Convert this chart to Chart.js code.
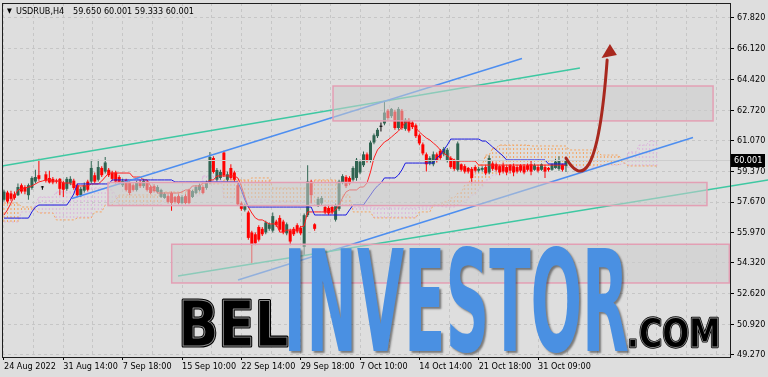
<!DOCTYPE html>
<html>
<head>
<meta charset="utf-8">
<title>USDRUB H4</title>
<script src="https://cdn.jsdelivr.net/npm/chart.js@4.4.1/dist/chart.umd.min.js"></script>
<style>
  html, body { margin: 0; padding: 0; background: #dedede; }
  canvas { display: block; }
</style>
</head>
<body>
<canvas id="chart" width="768" height="377"></canvas>
<script>
// H4 candles, one entry per bar (bar 0 = 24 Aug 2022)
const open = [
  57.80, 58.20, 58.15, 58.10, 58.05, 58.60, 58.50, 58.05, 58.45, 58.80,
  59.15, 58.48, 59.20, 59.00, 58.95, 58.85, 58.95, 58.75, 58.40, 58.70,
  58.85, 58.60, 58.05, 58.30, 58.80, 58.80, 59.15, 58.90, 59.55, 59.35,
  59.45, 59.30, 59.30, 59.05, 58.60, 58.88, 58.72, 58.60, 58.34, 58.78,
  58.55, 58.78, 58.50, 58.55, 58.23, 57.95, 57.90, 58.00, 58.17, 57.95,
  58.00, 57.62, 58.00, 58.34, 57.95, 58.17, 58.34, 58.50, 58.45, 58.78,
  60.10, 58.90, 59.00, 60.40, 58.90, 59.55, 59.30, 58.60, 57.60, 57.25,
  57.10, 56.00, 55.90, 56.30, 56.20, 56.00, 56.20, 56.10, 56.60, 56.80,
  56.60, 55.95, 56.10, 56.20, 56.40, 56.25, 55.20, 56.95, 58.80, 56.45,
  57.50, 57.60, 57.40, 57.35, 57.40, 56.70, 57.30, 58.75, 59.05, 59.00,
  58.90, 59.00, 59.30, 59.70, 60.30, 59.95, 60.95, 61.30, 61.82, 62.00,
  62.70, 62.40, 62.65, 61.75, 62.70, 61.70, 62.20, 62.05, 61.90, 61.35,
  60.85, 60.30, 59.80, 59.75, 60.30, 60.50, 60.30, 59.95, 60.10, 59.95,
  59.45, 59.75, 59.65, 59.55, 59.50, 59.60, 59.40, 59.45, 59.60, 59.30,
  59.80, 59.75, 59.65, 59.70, 59.60, 59.70, 59.65, 59.60, 59.70, 59.65,
  59.70, 59.75, 59.45, 59.60, 59.45, 59.60, 59.55, 59.45, 59.55, 59.50,
  59.75, 59.65
];
const high = [
  58.35, 58.30, 58.30, 58.25, 58.70, 58.70, 58.60, 58.70, 59.10, 59.45,
  60.05, 58.55, 59.35, 59.40, 59.05, 58.95, 59.00, 58.85, 59.05, 59.10,
  58.95, 58.70, 58.50, 58.75, 58.90, 60.00, 59.30, 60.00, 59.65, 60.15,
  59.55, 59.40, 59.40, 59.15, 58.95, 58.95, 58.80, 58.70, 58.85, 58.90,
  58.95, 58.85, 58.60, 58.65, 58.60, 58.40, 58.20, 58.10, 58.25, 58.00,
  58.10, 58.05, 58.10, 58.40, 58.35, 58.60, 58.70, 58.60, 58.85, 60.43,
  60.20, 59.55, 59.45, 60.50, 59.35, 59.75, 59.40, 58.75, 57.70, 57.60,
  57.20, 56.10, 56.00, 56.40, 56.30, 56.65, 56.55, 57.10, 56.70, 56.95,
  56.70, 56.55, 56.20, 56.30, 56.50, 56.35, 57.05, 59.70, 58.90, 56.50,
  57.95, 58.00, 57.50, 57.45, 57.50, 57.60, 58.90, 59.20, 59.15, 59.10,
  59.65, 60.10, 60.00, 60.45, 60.40, 61.05, 61.45, 61.75, 62.05, 63.20,
  62.80, 62.85, 62.75, 62.90, 62.80, 62.30, 62.30, 62.15, 62.00, 61.45,
  60.95, 60.40, 60.20, 60.45, 60.40, 60.60, 60.70, 60.65, 60.20, 60.05,
  61.00, 59.80, 59.75, 59.60, 59.60, 59.70, 59.60, 59.65, 59.70, 60.25,
  59.90, 59.85, 59.70, 59.85, 59.70, 59.75, 59.80, 59.70, 59.75, 59.75,
  59.80, 59.95, 59.80, 59.70, 59.80, 59.70, 59.60, 59.80, 60.05, 60.20,
  59.80, 60.001
];
const low = [
  57.70, 57.60, 57.75, 57.80, 58.00, 58.15, 58.10, 57.80, 58.35, 58.70,
  58.85, 58.35, 58.75, 58.70, 58.65, 58.70, 58.05, 57.95, 58.30, 58.60,
  58.35, 57.95, 57.95, 58.20, 58.25, 58.70, 58.70, 58.80, 59.05, 59.25,
  59.05, 58.85, 58.70, 58.65, 58.50, 58.25, 58.05, 58.25, 58.25, 58.45,
  58.45, 58.25, 58.10, 58.20, 58.15, 57.90, 57.85, 57.60, 57.20, 57.60,
  57.55, 57.55, 57.55, 57.55, 57.90, 58.10, 58.25, 58.10, 58.35, 58.70,
  59.25, 58.80, 58.90, 59.05, 58.80, 58.90, 58.80, 57.45, 57.20, 57.15,
  55.60, 54.30, 55.30, 55.50, 55.80, 55.90, 56.10, 56.00, 56.30, 56.05,
  55.90, 55.85, 55.30, 55.80, 55.95, 55.85, 54.75, 56.85, 57.60, 56.10,
  57.40, 57.50, 57.00, 56.95, 57.00, 56.60, 57.20, 58.65, 58.45, 58.60,
  58.80, 58.85, 59.20, 59.60, 59.85, 59.85, 60.85, 61.20, 61.55, 61.90,
  62.20, 62.30, 61.65, 61.65, 61.65, 61.60, 61.50, 61.70, 61.20, 60.80,
  60.25, 59.35, 59.70, 59.65, 59.85, 60.00, 60.20, 59.85, 59.50, 59.40,
  59.35, 59.35, 59.25, 59.25, 58.70, 59.30, 59.30, 59.35, 59.15, 59.20,
  59.40, 59.35, 59.15, 59.25, 59.15, 59.25, 59.10, 59.25, 59.30, 59.20,
  59.35, 59.15, 59.40, 59.30, 59.40, 59.00, 59.35, 59.40, 59.50, 59.40,
  59.35, 59.333
];
const close = [
  58.25, 57.70, 57.85, 57.90, 58.50, 58.25, 58.25, 58.60, 59.00, 59.05,
  58.95, 58.48, 58.85, 58.75, 58.75, 58.80, 58.40, 58.35, 58.95, 58.95,
  58.45, 58.05, 58.40, 58.60, 58.35, 59.55, 58.80, 59.60, 59.15, 59.85,
  59.15, 58.95, 58.80, 58.73, 58.83, 58.34, 58.17, 58.34, 58.72, 58.55,
  58.83, 58.34, 58.17, 58.28, 58.50, 58.34, 58.12, 57.68, 57.62, 57.68,
  57.62, 57.95, 57.62, 57.62, 58.28, 58.50, 58.60, 58.17, 58.78, 60.15,
  59.33, 59.44, 59.33, 59.15, 59.20, 59.00, 58.90, 57.55, 57.30, 57.50,
  55.70, 55.30, 55.40, 55.60, 55.90, 56.55, 56.45, 56.90, 56.40, 56.15,
  56.00, 56.45, 55.50, 55.90, 56.05, 55.95, 56.95, 58.80, 58.05, 56.20,
  57.85, 57.90, 57.10, 57.05, 57.10, 57.50, 58.80, 59.10, 58.55, 58.70,
  59.55, 60.00, 59.90, 60.30, 59.95, 60.95, 61.35, 61.65, 61.82, 62.60,
  62.30, 62.80, 61.75, 62.80, 61.75, 62.20, 61.60, 61.80, 61.30, 60.90,
  60.35, 59.75, 60.10, 60.30, 59.95, 60.10, 60.60, 60.55, 59.60, 59.50,
  60.90, 59.45, 59.35, 59.35, 59.00, 59.40, 59.50, 59.55, 59.25, 60.10,
  59.50, 59.45, 59.30, 59.35, 59.30, 59.40, 59.30, 59.35, 59.40, 59.30,
  59.45, 59.35, 59.70, 59.40, 59.75, 59.35, 59.45, 59.75, 59.90, 59.95,
  59.45, 60.001
];

// Ichimoku lines
const tenkan = [
  56.96, 57.24, 57.62, 58.01, 58.34, 58.39, 58.45, 58.50, 58.56, 58.67,
  58.78, 58.83, 58.89, 58.89, 58.83, 58.83, 58.83, 58.72, 58.72, 58.72,
  58.56, 58.56, 58.56, 58.56, 58.56, 58.67, 58.67, 58.67, 58.83, 59.05,
  59.27, 59.27, 59.27, 59.27, 59.27, 59.27, 59.27, 59.05, 59.05, 59.05,
  58.89, 58.89, 58.56, 58.39, 58.17, 58.17, 58.17, 58.17, 58.17, 58.17,
  58.17, 58.23, 58.34, 58.34, 58.56, 58.56, 58.56, 58.72, 58.72, 58.89,
  58.89, 59.11, 59.11, 59.11, 59.11, 59.11, 59.11, 59.00, 58.56, 57.95,
  57.40, 57.07, 56.80, 56.69, 56.69, 56.58, 56.47, 56.47, 56.47, 56.02,
  56.02, 56.13, 56.13, 56.13, 56.13, 56.30, 56.36, 57.13, 57.13, 57.13,
  57.13, 57.13, 57.13, 57.13, 57.13, 57.24, 57.51, 57.90, 58.23, 58.34,
  58.34, 58.34, 58.50, 58.50, 58.72, 59.33, 60.10, 60.54, 60.76, 60.98,
  61.09, 61.25, 61.42, 61.58, 61.80, 62.08, 62.08, 61.91, 61.75, 61.53,
  61.36, 61.20, 61.09, 60.92, 60.76, 60.54, 60.37, 60.21, 60.10, 59.99,
  59.93, 59.93, 59.93, 59.93, 59.93, 59.93, 59.71, 59.71, 59.71, 59.71,
  59.71, 59.71, 59.71, 59.71, 59.71, 59.71, 59.71, 59.71, 59.71, 59.71,
  59.71, 59.71, 59.71, 59.71, 59.71, 59.71, 59.71, 59.71, 59.71, 59.71,
  59.71, 59.71
];
const kijun = [
  56.79, 56.79, 56.79, 56.79, 56.79, 56.79, 56.79, 56.79, 57.13, 57.40,
  57.51, 57.51, 57.51, 57.51, 57.51, 57.51, 57.51, 57.51, 57.51, 57.79,
  58.12, 58.67, 58.67, 58.67, 58.67, 58.67, 58.67, 58.67, 58.67, 58.67,
  58.67, 58.89, 58.89, 58.89, 58.89, 58.89, 58.89, 58.89, 58.89, 58.89,
  58.89, 58.89, 58.89, 58.89, 58.89, 58.89, 58.89, 58.89, 58.89, 58.78,
  58.78, 58.78, 58.78, 58.78, 58.78, 58.78, 58.78, 58.78, 58.78, 58.78,
  58.78, 58.78, 58.78, 58.78, 58.78, 58.78, 58.78, 58.78, 58.34, 57.79,
  57.40, 57.40, 57.40, 57.40, 57.40, 57.40, 57.40, 57.40, 57.40, 57.40,
  57.40, 57.40, 57.40, 57.40, 57.40, 57.40, 57.40, 57.40, 57.40, 56.96,
  56.96, 56.96, 56.96, 56.96, 56.96, 56.96, 56.96, 56.96, 56.96, 57.24,
  57.51, 57.51, 57.51, 57.51, 57.79, 58.06, 58.34, 58.56, 58.72, 59.00,
  59.00, 59.00, 59.00, 59.16, 59.44, 59.82, 59.82, 59.82, 59.82, 59.82,
  59.82, 59.82, 59.82, 59.82, 60.10, 60.26, 60.54, 60.81, 61.14, 61.14,
  61.14, 61.14, 61.14, 61.14, 61.14, 61.14, 61.14, 61.03, 61.03, 60.87,
  60.70, 60.54, 60.37, 60.21, 59.99, 59.99, 59.99, 59.99, 59.99, 59.99,
  59.99, 59.99, 59.99, 59.99, 59.99, 59.99, 59.77, 59.77, 59.77, 59.77,
  59.77, 59.77
];
// cloud, already shifted 26 bars ahead
const spanA = [
  57.62, 57.62, 57.62, 57.62, 57.62, 57.40, 57.40, 57.40, 57.40, 57.24,
  57.07, 57.07, 57.07, 57.07, 57.07, 56.69, 56.69, 56.69, 56.69, 56.69,
  56.69, 56.80, 56.80, 56.80, 56.80, 56.80, 57.13, 57.13, 57.13, 57.51,
  57.51, 57.51, 57.79, 58.06, 58.06, 58.06, 58.06, 58.06, 58.06, 58.06,
  58.06, 58.06, 58.06, 58.06, 58.06, 58.06, 58.23, 58.23, 58.23, 58.23,
  58.23, 58.23, 58.23, 58.34, 58.34, 58.34, 58.34, 58.67, 58.67, 58.67,
  58.67, 58.67, 58.67, 58.89, 58.89, 58.89, 58.89, 58.89, 58.89, 58.89,
  58.89, 59.00, 59.00, 59.00, 59.00, 59.00, 59.00, 58.45, 58.45, 58.45,
  58.45, 58.45, 58.45, 58.45, 58.45, 58.45, 58.45, 58.45, 58.45, 58.89,
  58.89, 58.89, 58.89, 58.89, 58.89, 58.89, 58.06, 58.06, 58.06, 58.06,
  57.13, 57.13, 57.13, 57.13, 57.13, 57.13, 56.80, 56.80, 56.80, 56.80,
  56.80, 56.80, 56.80, 56.80, 56.80, 56.80, 56.80, 56.80, 56.80, 57.13,
  57.13, 57.13, 57.13, 57.51, 57.51, 57.51, 57.68, 57.68, 57.90, 57.90,
  58.17, 58.17, 58.61, 58.61, 59.16, 59.16, 59.71, 59.71, 60.26, 60.26,
  60.65, 60.65, 60.81, 60.81, 60.81, 60.81, 60.81, 60.81, 60.81, 60.81,
  60.81, 60.76, 60.76, 60.76, 60.76, 60.76, 60.76, 60.76, 60.76, 60.76,
  60.76, 60.76, 60.54, 60.54, 60.54, 60.54, 60.54, 60.54, 60.54, 60.54,
  60.54, 60.26, 60.26, 60.26, 60.26, 60.26, 60.26, 59.99, 59.77, 59.66,
  59.66, 59.66, 59.66, 59.66, 59.66, 59.66, 59.66, 59.66
];
const spanB = [
  56.58, 56.58, 56.58, 56.58, 56.58, 57.13, 57.13, 57.13, 57.13, 57.51,
  57.95, 57.95, 57.95, 57.95, 57.95, 58.23, 58.23, 58.23, 58.23, 58.23,
  58.23, 58.45, 58.45, 58.45, 58.45, 58.45, 58.45, 58.45, 58.45, 58.34,
  58.34, 58.34, 58.06, 57.51, 57.51, 57.51, 57.51, 57.51, 57.51, 57.51,
  57.51, 57.51, 57.51, 57.51, 57.51, 57.51, 57.79, 57.79, 57.79, 57.79,
  57.79, 57.79, 57.79, 58.01, 58.01, 58.01, 58.01, 59.11, 59.11, 59.11,
  59.11, 59.11, 59.11, 57.90, 57.90, 57.90, 57.90, 57.90, 57.90, 57.90,
  57.90, 57.79, 57.79, 57.79, 57.79, 57.79, 57.79, 57.68, 57.68, 57.68,
  57.68, 57.68, 57.68, 57.68, 57.68, 57.68, 57.68, 57.68, 57.68, 57.51,
  57.51, 57.51, 57.51, 57.51, 57.51, 57.51, 57.51, 57.51, 57.51, 57.51,
  57.40, 57.40, 57.40, 57.40, 57.40, 57.40, 57.35, 57.35, 57.35, 57.35,
  57.35, 57.35, 57.35, 57.35, 57.35, 57.35, 57.35, 57.35, 57.35, 57.40,
  57.40, 57.40, 57.40, 57.46, 57.46, 57.46, 57.40, 57.40, 57.40, 57.40,
  57.51, 57.51, 57.79, 57.79, 58.06, 58.06, 58.45, 58.45, 58.89, 58.89,
  59.16, 59.16, 59.44, 59.44, 59.44, 59.44, 59.44, 59.44, 59.44, 59.44,
  59.44, 59.55, 59.55, 59.55, 59.55, 59.55, 59.55, 59.55, 59.55, 59.55,
  59.55, 59.55, 59.60, 59.60, 59.60, 59.60, 59.60, 59.60, 59.60, 59.60,
  59.60, 59.71, 59.71, 59.71, 59.71, 59.71, 59.71, 59.77, 59.82, 60.43,
  60.43, 60.43, 60.81, 60.81, 60.81, 61.03, 61.03, 61.03
];

const priceTicks = [67.82, 66.12, 64.42, 62.72, 61.07, 59.37, 57.67, 55.97, 54.32, 52.62, 50.92, 49.27];
const timeLabelBars = [0, 17, 34, 51, 68, 85, 102, 119, 136, 153];
const timeLabels = ['24 Aug 2022', '31 Aug 14:00', '7 Sep 18:00', '15 Sep 10:00', '22 Sep 14:00',
  '29 Sep 18:00', '7 Oct 10:00', '14 Oct 14:00', '21 Oct 18:00', '31 Oct 09:00'];

// drawn objects, anchors as [bar, price]
const trendStart = [[-0.57, 59.66], [19.5, 57.87], [67.05, 53.38], [49.86, 53.60]];
const trendEnd = [[165.0, 65.05], [148.4, 65.57], [197.4, 61.23], [218.9, 58.89]];
const zones = [[94.27, 203.15, 64.06, 62.14], [29.80, 201.40, 58.75, 57.48], [48.05, 207.80, 55.35, 53.22]];
const arrowCurve = [[161.0, 60.10], [165.0, 58.78], [170.2, 58.61], [172.8, 65.49]];
const arrowHead = [[173.6, 66.37], [171.2, 65.60], [175.6, 65.77]];

const BULL = '#2f6451';
const BEAR = '#ff0000';
const FONT = '"Liberation Sans Narrow", "DejaVu Sans Condensed", sans-serif';

const candleColors = close.map((c, i) => (c > open[i] ? BULL : c < open[i] ? BEAR : '#000000'));
const xy = (arr) => arr.map((v, i) => ({ x: i, y: v }));

function hatch(color) {
  const c = document.createElement('canvas');
  c.width = 1;
  c.height = 4;
  const g = c.getContext('2d');
  g.fillStyle = color;
  g.fillRect(0, 0, 1, 2);
  return g.createPattern(c, 'repeat');
}
const sandHatch = hatch('#f4a460');
const thistleHatch = hatch('#dcb4dc');

function fitText(ctx, text, left, top, w, h, paint) {
  const m = ctx.measureText(text);
  const inkW = m.actualBoundingBoxLeft + m.actualBoundingBoxRight;
  const cap = m.actualBoundingBoxAscent;
  ctx.save();
  ctx.translate(left, top + h);
  ctx.scale(w / inkW, h / cap);
  paint(text, m.actualBoundingBoxLeft, 0);
  ctx.restore();
}

const overlay = {
  id: 'overlay',
  afterDatasetsDraw(chart) {
    const { ctx, scales: { x, y } } = chart;
    const px = (b) => x.getPixelForValue(b);
    const py = (p) => y.getPixelForValue(p);
    const area = chart.chartArea;
    ctx.save();

    // bid line
    const bidY = Math.round(py(close[close.length - 1])) + 0.5;
    ctx.strokeStyle = '#cdcdcd';
    ctx.lineWidth = 1;
    ctx.beginPath();
    ctx.moveTo(area.left, bidY);
    ctx.lineTo(area.right, bidY);
    ctx.stroke();

    // trend lines
    const lineColors = ['#3ec8a2', '#4d8ef0', '#4d8ef0', '#3ec8a2'];
    ctx.lineWidth = 1.5;
    trendStart.forEach((s, k) => {
      ctx.strokeStyle = lineColors[k];
      ctx.beginPath();
      ctx.moveTo(px(s[0]), py(s[1]));
      ctx.lineTo(px(trendEnd[k][0]), py(trendEnd[k][1]));
      ctx.stroke();
    });

    // zones
    zones.forEach(([b0, b1, pTop, pBot]) => {
      const x0 = px(b0), x1 = px(b1), y0 = py(pTop), y1 = py(pBot);
      ctx.fillStyle = 'rgba(204,204,204,0.55)';
      ctx.fillRect(x0, y0, x1 - x0, y1 - y0);
      ctx.strokeStyle = '#e39fb4';
      ctx.lineWidth = 1.5;
      ctx.strokeRect(x0, y0, x1 - x0, y1 - y0);
    });

    // forecast arrow
    const [p0, c1, c2, p3] = arrowCurve.map(([b, p]) => [px(b), py(p)]);
    ctx.strokeStyle = '#a8281e';
    ctx.fillStyle = '#a8281e';
    ctx.lineWidth = 3;
    ctx.lineCap = 'round';
    ctx.beginPath();
    ctx.moveTo(p0[0], p0[1]);
    ctx.bezierCurveTo(c1[0], c1[1], c2[0], c2[1], p3[0], p3[1]);
    ctx.stroke();
    ctx.beginPath();
    arrowHead.forEach(([b, p], k) => (k ? ctx.lineTo(px(b), py(p)) : ctx.moveTo(px(b), py(p))));
    ctx.closePath();
    ctx.fill();
    ctx.restore();
  },
  afterDraw(chart) {
    const { ctx, scales: { y } } = chart;
    const area = chart.chartArea;
    ctx.save();

    // frame
    ctx.strokeStyle = '#1e1e1e';
    ctx.lineWidth = 1;
    ctx.strokeRect(area.left + 0.5, area.top + 0.5, area.right - area.left, area.bottom - area.top);

    // symbol caption
    const n = close.length - 1;
    ctx.fillStyle = '#000';
    ctx.font = '7px ' + FONT;
    ctx.textBaseline = 'alphabetic';
    ctx.fillText('\u25BC', 7, 13);
    ctx.font = '9px ' + FONT;
    ctx.fillText('USDRUB,H4', 16, 14);
    ctx.fillText([open[n], high[n], low[n], close[n]].map((v) => v.toFixed(3)).join(' '), 73, 14);

    // last price tag
    const ly = Math.round(y.getPixelForValue(close[n]));
    ctx.fillStyle = '#000';
    ctx.fillRect(731, ly - 6, 34, 13);
    ctx.fillStyle = '#fff';
    ctx.textBaseline = 'middle';
    ctx.fillText(close[n].toFixed(3), 734, ly + 1);

    // watermark
    ctx.textBaseline = 'alphabetic';
    ctx.font = 'bold 100px "DejaVu Sans Condensed", "DejaVu Sans", sans-serif';
    fitText(ctx, 'BEL', 183, 301, 104, 45, (t, tx, ty) => {
      ctx.lineJoin = 'round';
      ctx.strokeStyle = '#000';
      ctx.lineWidth = 5;
      ctx.strokeText(t, tx, ty);
      ctx.fillStyle = '#000';
      ctx.fillText(t, tx, ty);
      ctx.strokeStyle = '#8c8c8c';
      ctx.lineWidth = 1.6;
      ctx.strokeText(t, tx, ty);
    });
    fitText(ctx, 'INVESTOR', 289, 246, 339, 105, (t, tx, ty) => {
      ctx.shadowColor = 'rgba(0,0,0,0.45)';
      ctx.shadowOffsetX = 2;
      ctx.shadowOffsetY = 2;
      ctx.shadowBlur = 2;
      ctx.fillStyle = '#4a90e2';
      ctx.fillText(t, tx, ty);
    });
    fitText(ctx, '.COM', 630, 318, 88, 29, (t, tx, ty) => {
      ctx.lineJoin = 'round';
      ctx.strokeStyle = '#000';
      ctx.lineWidth = 6;
      ctx.strokeText(t, tx, ty);
      ctx.fillStyle = '#000';
      ctx.fillText(t, tx, ty);
      ctx.strokeStyle = '#8c8c8c';
      ctx.lineWidth = 2;
      ctx.strokeText(t, tx, ty);
    });
    ctx.restore();
  },
};

new Chart(document.getElementById('chart'), {
  type: 'bar',
  data: {
    datasets: [
      {
        label: 'Kumo',
        data: spanA.map((a, i) => ({ x: i, y: [a, spanB[i]] })),
        backgroundColor: spanA.map((a, i) => (a >= spanB[i] ? sandHatch : thistleHatch)),
        barThickness: 1,
        order: 10,
      },
      {
        type: 'line',
        label: 'Senkou Span A',
        data: xy(spanA),
        borderColor: '#f4a460',
        borderWidth: 1,
        borderDash: [2, 2],
        pointRadius: 0,
        order: 9,
      },
      {
        type: 'line',
        label: 'Senkou Span B',
        data: xy(spanB),
        borderColor: '#dcb4dc',
        borderWidth: 1,
        borderDash: [2, 2],
        pointRadius: 0,
        order: 9,
      },
      {
        label: 'Wicks',
        data: low.map((l, i) => ({ x: i, y: [l, high[i]] })),
        backgroundColor: candleColors,
        barThickness: 1,
        order: 6,
      },
      {
        label: 'Bodies',
        data: open.map((o, i) => ({ x: i, y: [o, close[i]] })),
        backgroundColor: candleColors,
        barThickness: 3,
        minBarLength: 1,
        order: 5,
      },
      {
        type: 'line',
        label: 'Tenkan-sen',
        data: xy(tenkan),
        borderColor: '#ff1e1e',
        borderWidth: 1,
        pointRadius: 0,
        order: 3,
      },
      {
        type: 'line',
        label: 'Kijun-sen',
        data: xy(kijun),
        borderColor: '#1818e0',
        borderWidth: 1,
        pointRadius: 0,
        order: 2,
      },
    ],
  },
  options: {
    responsive: false,
    animation: false,
    devicePixelRatio: 1,
    events: [],
    layout: { autoPadding: false, padding: { left: 2, top: 3, right: 0, bottom: 0 } },
    datasets: { bar: { grouped: false, inflateAmount: 0, borderWidth: 0 } },
    plugins: { legend: { display: false }, tooltip: { enabled: false } },
    scales: {
      x: {
        type: 'linear',
        min: -0.57,
        max: 208,
        offset: false,
        afterBuildTicks: (scale) => {
          const t = [];
          for (let v = 0; v <= 204; v += 8.5) t.push({ value: v });
          scale.ticks = t;
        },
        afterFit: (scale) => {
          scale.height = 20;
          scale.paddingLeft = 0;
          scale.paddingRight = 0;
        },
        grid: {
          offset: false,
          color: '#c6c6c6',
          tickLength: 3,
          tickColor: (c) => (c.tick && timeLabelBars.includes(c.tick.value) ? '#000' : 'rgba(0,0,0,0)'),
          tickBorderDash: [],
        },
        border: { display: false, dash: [3, 3] },
        ticks: {
          autoSkip: false,
          maxRotation: 0,
          align: 'start',
          padding: 1,
          color: '#000',
          font: { family: FONT, size: 9 },
          callback: (v) => {
            const k = timeLabelBars.indexOf(v);
            return k >= 0 ? timeLabels[k] : '';
          },
        },
      },
      y: {
        position: 'right',
        min: 49.145,
        max: 68.629,
        afterBuildTicks: (scale) => { scale.ticks = priceTicks.map((v) => ({ value: v })); },
        afterFit: (scale) => {
          scale.width = 38;
          scale.paddingTop = 0;
          scale.paddingBottom = 0;
        },
        grid: { color: '#c6c6c6', tickLength: 4, tickColor: '#000', tickBorderDash: [] },
        border: { display: false, dash: [3, 3] },
        ticks: {
          padding: 3,
          color: '#000',
          font: { family: FONT, size: 9 },
          callback: (v) => v.toFixed(3),
        },
      },
    },
  },
  plugins: [overlay],
});
</script>
</body>
</html>
